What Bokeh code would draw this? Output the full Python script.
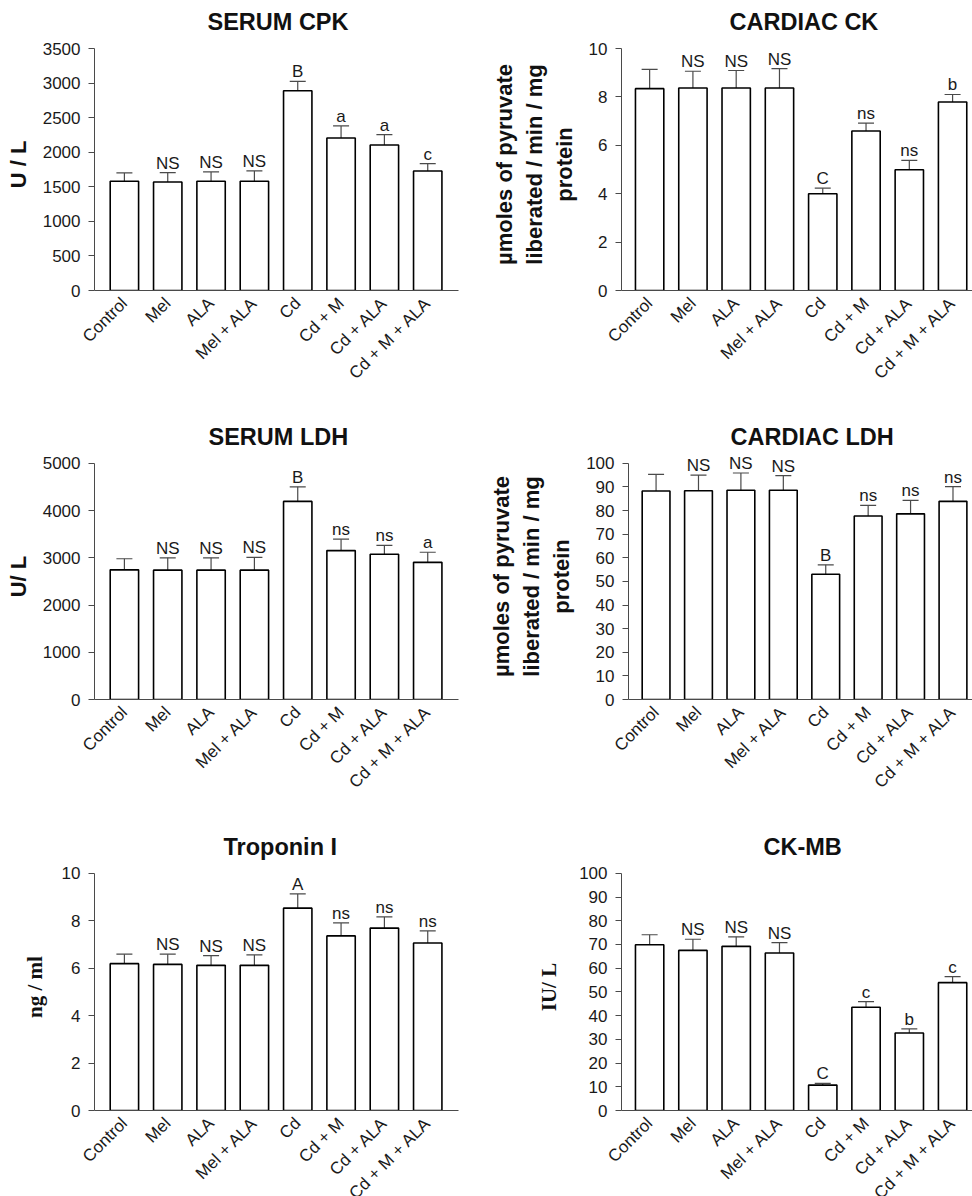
import math
from bokeh.plotting import figure
from bokeh.models import ColumnDataSource, Range1d, FixedTicker, Whisker, TeeHead, LabelSet
from bokeh.layouts import column, row
from bokeh.core.properties import value
from bokeh.embed import file_html
from bokeh.resources import INLINE

categories = ["Control", "Mel", "ALA", "Mel + ALA", "Cd", "Cd + M", "Cd + ALA", "Cd + M + ALA"]

cpk_mean = [1580, 1570, 1580, 1580, 2890, 2205, 2105, 1728]
cpk_err = [120, 135, 135, 150, 135, 175, 150, 106]
cpk_sig = ["", "NS", "NS", "NS", "B", "a", "a", "c"]

cck_mean = [8.34, 8.37, 8.37, 8.37, 4.00, 6.59, 4.99, 7.79]
cck_err = [0.80, 0.69, 0.72, 0.80, 0.23, 0.33, 0.39, 0.31]
cck_sig = ["", "NS", "NS", "NS", "C", "ns", "ns", "b"]

sldh_mean = [2745, 2738, 2738, 2738, 4193, 3152, 3076, 2903]
sldh_err = [234, 262, 262, 269, 310, 241, 186, 214]
sldh_sig = ["", "NS", "NS", "NS", "B", "ns", "ns", "a"]

cldh_mean = [88.3, 88.4, 88.6, 88.6, 53.0, 77.7, 78.6, 83.9]
cldh_err = [7.0, 6.6, 7.3, 6.2, 4.0, 4.5, 5.7, 6.2]
cldh_sig = ["", "NS", "NS", "NS", "B", "ns", "ns", "ns"]

trop_mean = [6.19, 6.16, 6.12, 6.12, 8.53, 7.36, 7.69, 7.06]
trop_err = [0.40, 0.43, 0.41, 0.44, 0.60, 0.55, 0.47, 0.51]
trop_sig = ["", "NS", "NS", "NS", "A", "ns", "ns", "ns"]

ckmb_mean = [69.9, 67.5, 69.2, 66.4, 10.7, 43.5, 32.7, 53.9]
ckmb_err = [4.2, 4.7, 4.0, 4.4, 0.7, 2.4, 1.7, 2.5]
ckmb_sig = ["", "NS", "NS", "NS", "C", "c", "b", "c"]

SANS = "Liberation Sans"
SERIF = "Liberation Serif"
AXIS_COLOR = "#4a4a4a"
TEXT_COLOR = "#1a1a1a"
HEAD_ROOM = 10      # px of frame above the top tick (keeps labels unclipped)


def make_panel(title, title_offset, ylabel, ylabel_font, ylabel_size, ylabel_standoff,
               means, errs, sigs, ymax, ystep, side, height, axis_top, axis_bottom):
    xs = list(range(len(categories)))
    uppers = [m + e for m, e in zip(means, errs)]
    src = ColumnDataSource(dict(x=xs, mean=means, upper=uppers, sig=sigs))
    if side == "left":
        xr = Range1d(-0.69, 7.71)
        bl, br = 94, 28
    else:
        xr = Range1d(-0.65, 7.46)
        bl, br = 135, 0
    ppu = (axis_bottom - axis_top) / ymax
    yr = Range1d(0, ymax + HEAD_ROOM / ppu)
    p = figure(width=486, height=height, x_range=xr, y_range=yr,
               output_backend="svg", toolbar_location=None,
               min_border_left=bl, min_border_right=br,
               min_border_top=axis_top - HEAD_ROOM,
               min_border_bottom=height - axis_bottom, title=title)
    p.vbar(x="x", top="mean", bottom=0, width=0.655, source=src,
           fill_color="white", line_color="black", line_width=1.6)
    w = Whisker(base="x", lower="mean", upper="upper", source=src, dimension="height",
                line_color=AXIS_COLOR, line_width=1.2,
                upper_head=TeeHead(size=16, line_color=AXIS_COLOR, line_width=1.2),
                lower_head=None)
    p.add_layout(w)
    p.add_layout(LabelSet(x="x", y="upper", text="sig", source=src,
                          text_align="center", text_baseline="alphabetic", y_offset=4,
                          text_font=value(SANS), text_font_size="17px",
                          text_color=TEXT_COLOR))

    p.title.text_font = SANS
    p.title.text_font_size = "23.5px"
    p.title.text_font_style = "bold"
    p.title.align = "left"
    p.title.offset = title_offset
    p.title.text_color = "#111111"
    p.title.standoff = 7

    ticks = []
    t = 0
    while t <= ymax + 1e-9:
        ticks.append(t)
        t += ystep
    p.yaxis.ticker = FixedTicker(ticks=ticks)
    p.yaxis.bounds = (0, ymax)
    p.yaxis.axis_label = ylabel
    p.yaxis.axis_label_text_font = ylabel_font
    p.yaxis.axis_label_text_font_style = "bold"
    p.yaxis.axis_label_text_font_size = ylabel_size
    p.yaxis.axis_label_text_color = "#111111"
    p.yaxis.axis_label_standoff = ylabel_standoff
    p.yaxis.major_label_text_font = SANS
    p.yaxis.major_label_text_font_size = "17px"
    p.yaxis.major_label_text_color = TEXT_COLOR
    p.yaxis.major_label_standoff = 8
    p.yaxis.major_tick_out = 6
    p.yaxis.major_tick_in = 0
    p.yaxis.minor_tick_out = 0
    p.yaxis.minor_tick_in = 0
    p.yaxis.axis_line_color = AXIS_COLOR
    p.yaxis.major_tick_line_color = AXIS_COLOR

    p.xaxis.ticker = FixedTicker(ticks=xs)
    p.xaxis.major_label_overrides = {xi: c for xi, c in zip(xs, categories)}
    p.xaxis.major_label_orientation = math.pi / 4
    p.xaxis.major_label_standoff = 10
    p.xaxis.major_label_text_font = SANS
    p.xaxis.major_label_text_font_size = "17px"
    p.xaxis.major_label_text_color = TEXT_COLOR
    p.xaxis.major_tick_out = 0
    p.xaxis.major_tick_in = 0
    p.xaxis.minor_tick_out = 0
    p.xaxis.minor_tick_in = 0
    p.xaxis.axis_line_color = AXIS_COLOR

    p.xgrid.visible = False
    p.ygrid.visible = False
    p.outline_line_color = None
    p.background_fill_color = "white"
    p.border_fill_color = "white"
    return p


enz_label = "\u00b5moles of pyruvate\nliberated / min / mg\nprotein"

p1 = make_panel("SERUM CPK", 113, "U / L", SANS, "22px", 9,
                cpk_mean, cpk_err, cpk_sig, 3500, 500, "left", 418, 48, 290)
p2 = make_panel("CARDIAC CK", 108, enz_label, SANS, "22px", 9,
                cck_mean, cck_err, cck_sig, 10, 2, "right", 418, 48, 290)
p3 = make_panel("SERUM LDH", 114, "U/ L", SANS, "22px", 9,
                sldh_mean, sldh_err, sldh_sig, 5000, 1000, "left", 410, 40, 281)
p4 = make_panel("CARDIAC LDH", 102, enz_label, SANS, "22px", 9,
                cldh_mean, cldh_err, cldh_sig, 100, 10, "right", 410, 40, 281)
# bottom row is taller than what is left of the window; the column clips it,
# like the reference, whose lowest tick labels are cut by the image edge
p5 = make_panel("Troponin I", 129, "ng / ml", SERIF, "21px", 12,
                trop_mean, trop_err, trop_sig, 10, 2, "left", 388, 40, 282)
p6 = make_panel("CK-MB", 142, "IU/ L", SERIF, "21px", 15,
                ckmb_mean, ckmb_err, ckmb_sig, 100, 10, "right", 388, 40, 282)

layout = column(row(p1, p2), row(p3, p4), row(p5, p6),
                width=972, height=1196, styles={"overflow": "hidden"})

open("out.html", "w").write(file_html(layout, INLINE))
